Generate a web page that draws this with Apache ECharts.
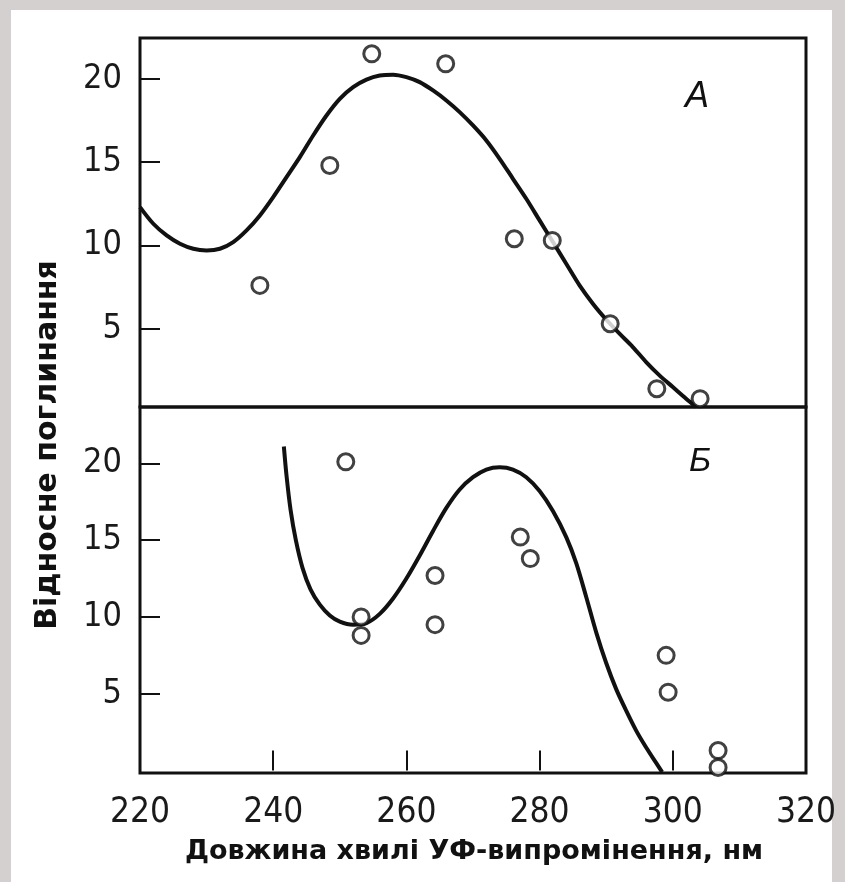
<!DOCTYPE html>
<html>
<head>
<meta charset="utf-8">
<script src="https://cdn.jsdelivr.net/npm/echarts@6/dist/echarts.min.js"></script>
<style>
html,body{margin:0;padding:0;background:#d5d0d0;}
#c{width:845px;height:882px;}
</style>
</head>
<body>
<div id="c"></div>
<script>
// ---- data ----
const xTicks = [220, 240, 260, 280, 300, 320];
const yTicks = [5, 10, 15, 20];

// Panel A (top): measured points
const aPointsX = [238.0, 248.5, 254.8, 265.9, 276.2, 281.9, 290.6, 297.6, 304.1];
const aPointsY = [7.6, 14.8, 21.5, 20.9, 10.4, 10.3, 5.3, 1.4, 0.8];
// Panel A fitted curve
const aCurveX = [220, 222, 224, 226, 228, 230, 232, 234, 236, 238, 240, 242, 244, 246, 248, 250, 252, 254, 256, 258, 260, 262, 264, 266, 268, 270, 272, 274, 276, 278, 280, 282, 284, 286, 288, 290, 292, 294, 296, 298, 300, 302, 303.5];
const aCurveY = [12.3, 11.3, 10.6, 10.1, 9.8, 9.7, 9.8, 10.2, 10.9, 11.8, 12.9, 14.1, 15.3, 16.6, 17.8, 18.8, 19.5, 19.95, 20.2, 20.25, 20.1, 19.8, 19.3, 18.7, 18.0, 17.2, 16.3, 15.2, 14.0, 12.8, 11.5, 10.2, 8.9, 7.6, 6.5, 5.55, 4.7, 3.9, 3.0, 2.2, 1.5, 0.8, 0.3];

// Panel Б (bottom): measured points
const bPointsX = [250.9, 253.2, 253.2, 264.3, 264.3, 277.1, 278.6, 299.0, 299.3, 306.8, 306.8];
const bPointsY = [20.1, 10.0, 8.8, 12.7, 9.5, 15.2, 13.8, 7.5, 5.1, 1.3, 0.2];
// Panel Б fitted curve
const bCurveX = [241.6, 242.0, 242.6, 243.4, 244.4, 245.6, 247.0, 248.5, 250, 252, 254, 256, 258, 260, 262, 264, 266, 268, 270, 272, 274, 276, 278, 280, 282, 284, 285.5, 287, 288.5, 290, 291.5, 293, 294.5, 296, 297.5, 298.4];
const bCurveY = [21.1, 19.2, 17.0, 15.0, 13.2, 11.8, 10.8, 10.1, 9.7, 9.5, 9.6, 10.2, 11.2, 12.5, 14.0, 15.6, 17.1, 18.3, 19.1, 19.6, 19.75, 19.6, 19.1, 18.2, 16.9, 15.2, 13.5, 11.3, 9.0, 7.0, 5.3, 3.9, 2.6, 1.5, 0.5, -0.1];

const panelLabels = ['A', 'Б'];
const yTitle = 'Відносне поглинання';
const xTitle = 'Довжина хвилі УФ-випромінення, нм';

// ---- chart ----
const zip = (xs, ys) => xs.map((x, i) => [x, ys[i]]);
const tickFont = '"DejaVu Sans Condensed","Liberation Sans Narrow",sans-serif';
const chart = echarts.init(document.getElementById('c'), null, {renderer: 'canvas'});

const yAxisCommon = {
  type: 'value',
  axisLine: {show: false},
  splitLine: {show: false},
  axisTick: {show: true, inside: true, length: 20, customValues: yTicks, lineStyle: {color: '#111', width: 2}},
  axisLabel: {show: true, customValues: yTicks, margin: 18, fontFamily: tickFont, fontSize: 34, color: '#1a1a1a'}
};

const pointStyle = {color: '#fff', borderColor: '#111', borderWidth: 3};

chart.setOption({
  animation: false,
  backgroundColor: 'transparent',
  graphic: [
    {type: 'rect', z: -10, shape: {x: 11, y: 10, width: 821, height: 872}, style: {fill: '#ffffff'}},
    {type: 'text', x: 697, y: 97, style: {text: panelLabels[0], font: 'italic 36px "Liberation Sans", sans-serif', fill: '#111', align: 'center', verticalAlign: 'middle'}},
    {type: 'text', x: 700, y: 462, style: {text: panelLabels[1], font: 'italic 34px "Liberation Sans", sans-serif', fill: '#111', align: 'center', verticalAlign: 'middle'}},
    {type: 'text', x: 48, y: 445, rotation: Math.PI / 2, style: {text: yTitle, font: 'bold 30px "DejaVu Sans", sans-serif', fill: '#111', align: 'center', verticalAlign: 'middle'}},
    {type: 'text', x: 474, y: 852, style: {text: xTitle, font: 'bold 27px "DejaVu Sans", sans-serif', fill: '#111', align: 'center', verticalAlign: 'middle'}}
  ],
  grid: [
    {left: 140, right: 39, top: 38, height: 369, show: true, borderColor: '#111', borderWidth: 3, backgroundColor: 'transparent'},
    {left: 140, right: 39, top: 407, height: 366, show: true, borderColor: '#111', borderWidth: 3, backgroundColor: 'transparent'}
  ],
  xAxis: [
    {type: 'value', gridIndex: 0, min: 220, max: 320, interval: 20, axisLine: {show: false}, axisTick: {show: false}, axisLabel: {show: false}, splitLine: {show: false}},
    {type: 'value', gridIndex: 1, min: 220, max: 320, interval: 20,
     axisLine: {show: false}, splitLine: {show: false},
     axisTick: {show: true, inside: true, length: 20, lineStyle: {color: '#111', width: 2}},
     axisLabel: {show: true, margin: 22, fontFamily: tickFont, fontSize: 35, color: '#1a1a1a'}}
  ],
  yAxis: [
    Object.assign({}, yAxisCommon, {gridIndex: 0, min: 0.30, max: 22.45}),
    Object.assign({}, yAxisCommon, {gridIndex: 1, min: -0.16, max: 23.67})
  ],
  series: [
    {type: 'line', xAxisIndex: 0, yAxisIndex: 0, data: zip(aCurveX, aCurveY), smooth: 0.3, symbol: 'none', lineStyle: {color: '#111', width: 4}, clip: true},
    {type: 'scatter', xAxisIndex: 0, yAxisIndex: 0, data: zip(aPointsX, aPointsY), symbol: 'circle', symbolSize: 16, itemStyle: pointStyle, z: 5},
    {type: 'line', xAxisIndex: 1, yAxisIndex: 1, data: zip(bCurveX, bCurveY), smooth: 0.3, symbol: 'none', lineStyle: {color: '#111', width: 4}, clip: true},
    {type: 'scatter', xAxisIndex: 1, yAxisIndex: 1, data: zip(bPointsX, bPointsY), symbol: 'circle', symbolSize: 16, itemStyle: pointStyle, z: 5}
  ]
});
</script>
</body>
</html>
